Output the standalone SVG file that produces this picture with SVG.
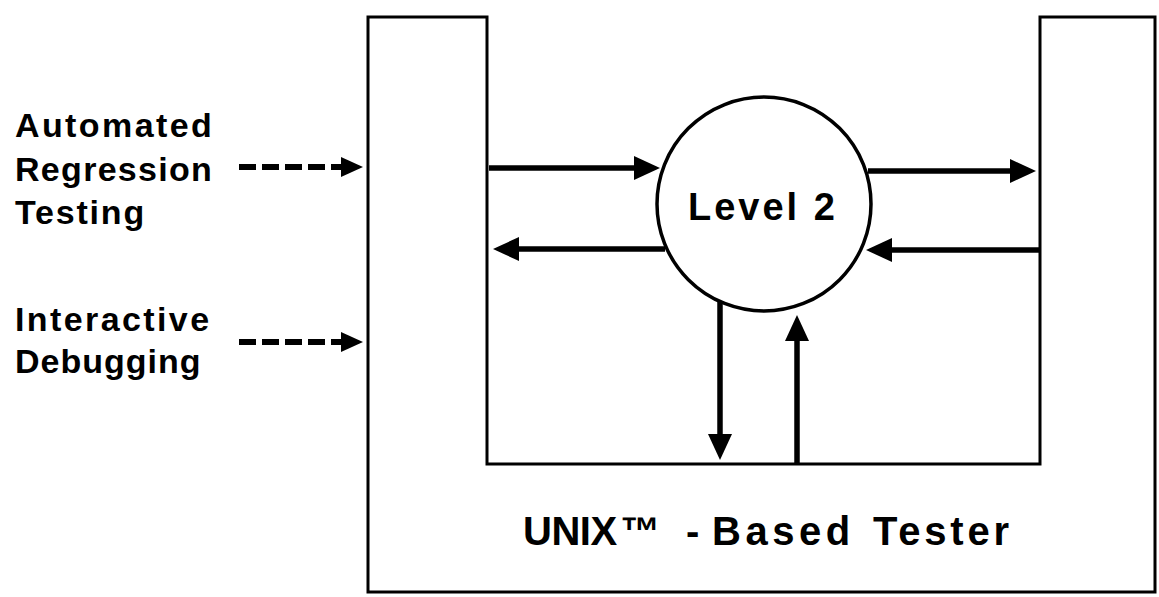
<svg xmlns="http://www.w3.org/2000/svg" width="1159" height="597" viewBox="0 0 1159 597">
<style>
  .frame{fill:none;stroke:#000;stroke-width:3;stroke-linejoin:miter}
  .circ{fill:#fff;stroke:#000;stroke-width:3.5}
  .solid{fill:none;stroke:#000;stroke-width:5.5}
  .dash{fill:none;stroke:#000;stroke-width:6;stroke-dasharray:17 6}
  text{font-family:"Liberation Sans",Arial,sans-serif;font-weight:bold;fill:#000}
  .lbl{font-size:34px}
  .lvl{font-size:38px;letter-spacing:3px}
  .big{font-size:40px}
</style>
<defs>
  <marker id="ah" markerUnits="userSpaceOnUse" viewBox="0 0 26 24" refX="12" refY="12" markerWidth="26" markerHeight="24" orient="auto">
    <path d="M0,0 L26,12 L0,24 Z" fill="#000"/>
  </marker>
  <marker id="dh" markerUnits="userSpaceOnUse" viewBox="0 0 22 20" refX="8" refY="10" markerWidth="22" markerHeight="20" orient="auto">
    <path d="M0,0 L22,10 L0,20 Z" fill="#000"/>
  </marker>
</defs>

<g id="tester">
  <path class="frame" d="M368,17 L487,17 L487,464 L1040,464 L1040,17 L1155,17 L1155,592 L368,592 Z"/>
  <text class="big" y="545"><tspan x="523" letter-spacing="-0.5">UNIX</tspan><tspan x="620" y="545">™</tspan><tspan x="686">-</tspan><tspan x="712" letter-spacing="4.5">Based</tspan><tspan x="873" letter-spacing="3.8">Tester</tspan></text>
</g>

<g id="level2">
  <circle class="circ" cx="764" cy="204" r="107"/>
  <text class="lvl" x="688" y="220">Level 2</text>
</g>

<g id="label-automated">
  <text class="lbl"><tspan x="15" y="137" letter-spacing="2.4">Automated</tspan><tspan x="15" y="181" letter-spacing="1.3">Regression</tspan><tspan x="15" y="224" letter-spacing="1.8">Testing</tspan></text>
</g>

<g id="label-interactive">
  <text class="lbl"><tspan x="15" y="331" letter-spacing="2.4">Interactive</tspan><tspan x="15" y="373" letter-spacing="1">Debugging</tspan></text>
</g>

<g id="connectors">
  <line class="dash" x1="239" y1="167" x2="349" y2="167" marker-end="url(#dh)"/>
  <line class="dash" x1="239" y1="342" x2="349" y2="342" marker-end="url(#dh)"/>
  <line class="solid" x1="489" y1="168" x2="646" y2="168" marker-end="url(#ah)"/>
  <line class="solid" x1="665" y1="249" x2="507" y2="249" marker-end="url(#ah)"/>
  <line class="solid" x1="868" y1="171" x2="1022" y2="171" marker-end="url(#ah)"/>
  <line class="solid" x1="1039" y1="250" x2="880" y2="250" marker-end="url(#ah)"/>
  <line class="solid" x1="720" y1="302" x2="720" y2="446" marker-end="url(#ah)"/>
  <line class="solid" x1="797" y1="463" x2="797" y2="329" marker-end="url(#ah)"/>
</g>
</svg>
